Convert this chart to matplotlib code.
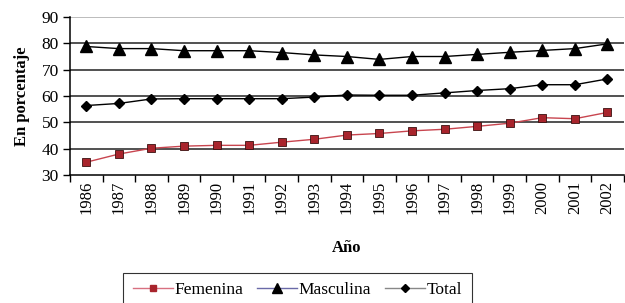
import matplotlib

matplotlib.use("Agg")
import matplotlib.pyplot as plt
import numpy as np
from matplotlib.lines import Line2D

years = [str(y) for y in range(1986, 2003)]
femenina = [34.9, 38.0, 40.2, 41.0, 41.3, 41.3, 42.5, 43.6, 45.2, 45.8, 46.8, 47.4, 48.5, 49.7, 51.8, 51.4, 53.8]
masculina = [78.8, 78.0, 78.0, 77.2, 77.2, 77.2, 76.5, 75.6, 75.0, 73.9, 75.0, 75.0, 75.8, 76.6, 77.3, 78.0, 79.8]
total = [56.4, 57.2, 58.9, 59.0, 59.0, 59.0, 59.0, 59.6, 60.4, 60.3, 60.3, 61.2, 62.1, 62.8, 64.3, 64.3, 66.5]
y_ticks = [30, 40, 50, 60, 70, 80, 90]

plt.rcParams["font.family"] = ["Liberation Serif", "DejaVu Serif"]

fig = plt.figure(figsize=(6.25, 3.03), dpi=100)
ax = fig.add_axes([0.112, 0.422, 0.886, 0.522])

x = np.arange(len(years))
ax.plot(x, femenina, color="#c8454f", lw=1.0, marker="s", ms=6,
        mfc="#a8242c", mec="#3a1010", mew=0.6, zorder=3)
ax.plot(x, masculina, color="black", lw=1.0, marker="^", ms=8, zorder=3)
ax.plot(x, total, color="black", lw=1.0, marker="D", ms=5, zorder=3)

ax.set_xlim(-0.5, len(years) - 0.5)
ax.set_ylim(30, 90)
ax.set_yticks(y_ticks)
ax.set_yticklabels([str(v) for v in y_ticks], fontsize=12.5)
for v in y_ticks[1:-1]:
    ax.axhline(v, color="#222222", lw=1.1, zorder=1)
ax.axhline(90, color="#aaaaaa", lw=1.1, zorder=1)

ax.set_xticks(x)
ax.set_xticklabels(years, rotation=90, fontsize=12)
ax.set_xticks(np.arange(-0.5, len(years), 1), minor=True)
ax.tick_params(axis="x", which="major", length=0, pad=4)
ax.tick_params(axis="x", which="minor", length=5, width=1.0, direction="out")
ax.tick_params(axis="y", length=5, width=1.0, direction="out", pad=3)

for side in ["top", "right"]:
    ax.spines[side].set_visible(False)
ax.spines["left"].set_linewidth(1.1)
ax.spines["bottom"].set_linewidth(1.1)

ax.set_ylabel("En porcentaje", fontsize=12, fontweight="bold", labelpad=8)
ax.set_xlabel("Año", fontsize=12, fontweight="bold", labelpad=19)

handles = [
    Line2D([], [], color="#d87080", lw=1.0, marker="s", ms=5, mfc="#a8242c", mec="#a8242c"),
    Line2D([], [], color="#6a6aa8", lw=1.0, marker="^", ms=7, mfc="black", mec="black"),
    Line2D([], [], color="#888888", lw=1.0, marker="D", ms=4.5, mfc="black", mec="black"),
]
leg = fig.legend(handles, ["Femenina", "Masculina", "Total"], loc="upper left",
                 bbox_to_anchor=(0.197, 0.1), ncol=3, fontsize=12.5, frameon=True,
                 fancybox=False, edgecolor="black", handlelength=2.3,
                 handletextpad=0.1, columnspacing=0.8, borderpad=0.55,
                 borderaxespad=0)
leg.get_frame().set_linewidth(0.8)

fig.savefig("out.png", dpi=100)
